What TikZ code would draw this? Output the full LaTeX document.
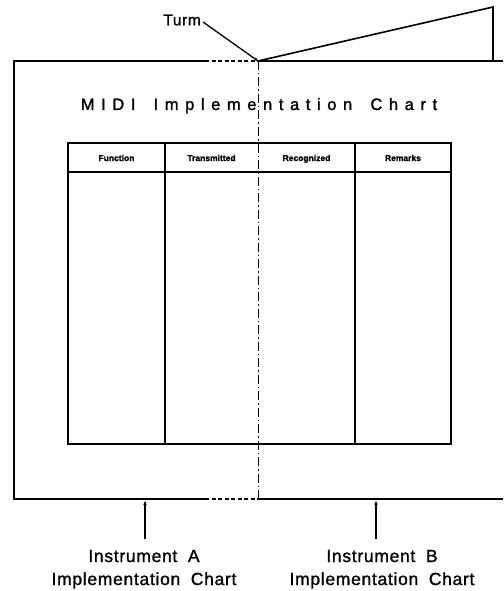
\documentclass[tikz,border=0pt]{standalone}
\usepackage{fontspec}
\setmainfont{Liberation Sans}[FakeBold=1.2]
\newfontfamily\titlefont{Liberation Sans}[LetterSpace=40,FakeBold=1.5]
\newfontfamily\lblfont{Liberation Sans}[LetterSpace=4,FakeBold=1.2]
\usetikzlibrary{arrows.meta}
\begin{document}
\begin{tikzpicture}[x=1pt,y=-1pt,
  frame/.style={line width=1.6pt},
  tline/.style={line width=1.1pt},
  foldline/.style={line width=1pt,dash pattern=on 9pt off 3pt on 1.5pt off 3pt},
  halfdash/.style={line width=1.6pt,dash pattern=on 4pt off 2.5pt},
  lbl/.style={font=\lblfont\fontsize{17.5}{23}\selectfont,align=center},
  hdr/.style={font=\fontsize{8.5}{9}\selectfont\bfseries,anchor=base},
  ptr/.style={line width=1.3pt,-{Stealth[length=4pt,width=3.5pt]}}]
\useasboundingbox (0,0) rectangle (503,591);
% key coordinates
\coordinate (tl) at (14,61);
\coordinate (bl) at (14,499);
\coordinate (ftop) at (258,61);
\coordinate (fbot) at (258,499);
\coordinate (da) at (205,61);
\coordinate (db) at (205,499);
\coordinate (tr) at (503,61);
\coordinate (br) at (503,499);
\coordinate (pt) at (493,7);
\coordinate (pb) at (493,61);
% outer page frame
\draw[frame] (da) -- (tl) -- (bl) -- (db);
\draw[halfdash] (da) -- (ftop);
\draw[halfdash] (db) -- (fbot);
\draw[frame] (ftop) -- (tr);
\draw[frame] (fbot) -- (br);
% turned page
\draw[frame,line join=miter] (ftop) -- (pt) -- (pb);
% fold line
\draw[foldline] (ftop) -- (fbot);
% Turm label
\node[lbl,anchor=east,inner sep=1pt,font=\lblfont\fontsize{15.5}{18}\selectfont] (turm) at (202,20) {Turm};
\draw[ptr] (turm.east) ++(1,2) -- (ftop);
% title
\node[font=\titlefont\fontsize{16.5}{18}\selectfont,anchor=base] (title) at (259,110) {MIDI\hspace{7pt} Implementation\hspace{7pt} Chart};
% table
\coordinate (t1) at (68,143);
\coordinate (t2) at (451,444);
\draw[tline] (t1) rectangle (t2);
\draw[tline] (68,172) -- (451,172);
\draw[tline] (165,143) -- (165,444);
\draw[tline] (355,143) -- (355,444);
\node[hdr] (h1) at (116.5,161) {Function};
\node[hdr] (h2) at (211.5,161) {Transmitted};
\node[hdr] (h3) at (306.5,161) {Recognized};
\node[hdr] (h4) at (403,161) {Remarks};
% bottom labels
\node[lbl,anchor=base] (la) at (144,585) {Instrument\hspace{5pt} A\\Implementation\hspace{5pt} Chart};
\node[lbl,anchor=base] (lb) at (382,585) {Instrument\hspace{5pt} B\\Implementation\hspace{5pt} Chart};
\coordinate (aa) at (145,501);
\coordinate (ab) at (376,501);
\draw[ptr] (145,539) -- (aa);
\draw[ptr] (376,539) -- (ab);
\end{tikzpicture}
\end{document}
